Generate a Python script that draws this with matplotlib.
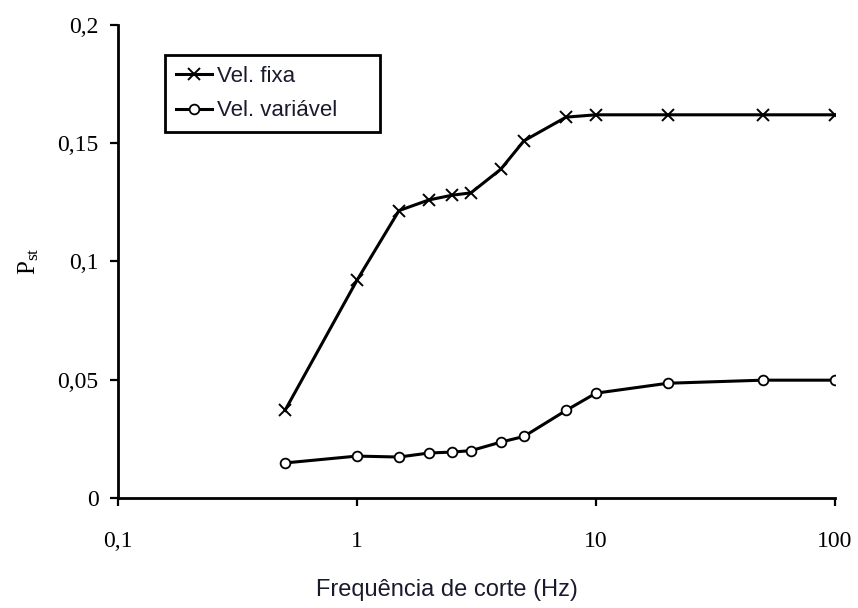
import matplotlib
matplotlib.use('Agg')
import matplotlib.pyplot as plt
from matplotlib.ticker import FixedLocator, FixedFormatter, NullLocator

# cutoff frequencies (Hz)
freq = [0.5, 1, 1.5, 2, 2.5, 3, 4, 5, 7.5, 10, 20, 50, 100]
# Pst values
pst_fixa = [0.037, 0.092, 0.1215, 0.126, 0.128, 0.129, 0.139, 0.151, 0.161, 0.162, 0.162, 0.162, 0.162]
pst_variavel = [0.0148, 0.0177, 0.0173, 0.019, 0.0194, 0.020, 0.0236, 0.026, 0.037, 0.0443, 0.0485, 0.0498, 0.0498]

xticks = [0.1, 1, 10, 100]
xticklabels = ['0,1', '1', '10', '100']
yticks = [0, 0.05, 0.1, 0.15, 0.2]
yticklabels = ['0', '0,05', '0,1', '0,15', '0,2']

plt.rcParams['mathtext.default'] = 'regular'

fig = plt.figure(figsize=(8.58, 6.08), dpi=100)
ax = fig.add_axes([0.1375, 0.181, 0.8355, 0.778])

ax.plot(freq, pst_fixa, color='black', lw=2.2, marker='x', ms=9, mew=1.4, label='Vel. fixa')
ax.plot(freq, pst_variavel, color='black', lw=2.2, marker='o', ms=7, mfc='white', mew=1.3,
        label='Vel. variável')

ax.set_xscale('log')
ax.set_xlim(0.1, 100)
ax.set_ylim(0, 0.2)
ax.xaxis.set_major_locator(FixedLocator(xticks))
ax.xaxis.set_major_formatter(FixedFormatter(xticklabels))
ax.xaxis.set_minor_locator(NullLocator())
ax.set_yticks(yticks)
ax.set_yticklabels(yticklabels)

for s in ['top', 'right']:
    ax.spines[s].set_visible(False)
for s in ['left', 'bottom']:
    ax.spines[s].set_linewidth(2)
ax.tick_params(direction='out', length=6, width=1.6, labelsize=17)
ax.tick_params(axis='x', pad=18)
ax.tick_params(axis='y', pad=8)
for lab in ax.get_xticklabels() + ax.get_yticklabels():
    lab.set_fontfamily('Liberation Serif')

ax.set_xlabel('Frequência de corte (Hz)', fontsize=17, family='Liberation Sans', color='#1a1a2e')
ax.xaxis.set_label_coords(0.459, -0.172)
ax.set_ylabel('P$_{st}$', fontsize=18, family='Liberation Serif', labelpad=12)

leg = ax.legend(loc='upper left', bbox_to_anchor=(0.0656, 0.5, 0.2999, 0.4366), mode='expand',
                prop={'family': 'Liberation Sans', 'size': 16},
                handlelength=1.6, handletextpad=0.25, borderpad=0.5, labelspacing=0.6,
                borderaxespad=0, fancybox=False, edgecolor='black', framealpha=1)
leg.get_frame().set_linewidth(2)
for t in leg.get_texts():
    t.set_color('#1a1a2e')

fig.savefig('out.png', dpi=100)
